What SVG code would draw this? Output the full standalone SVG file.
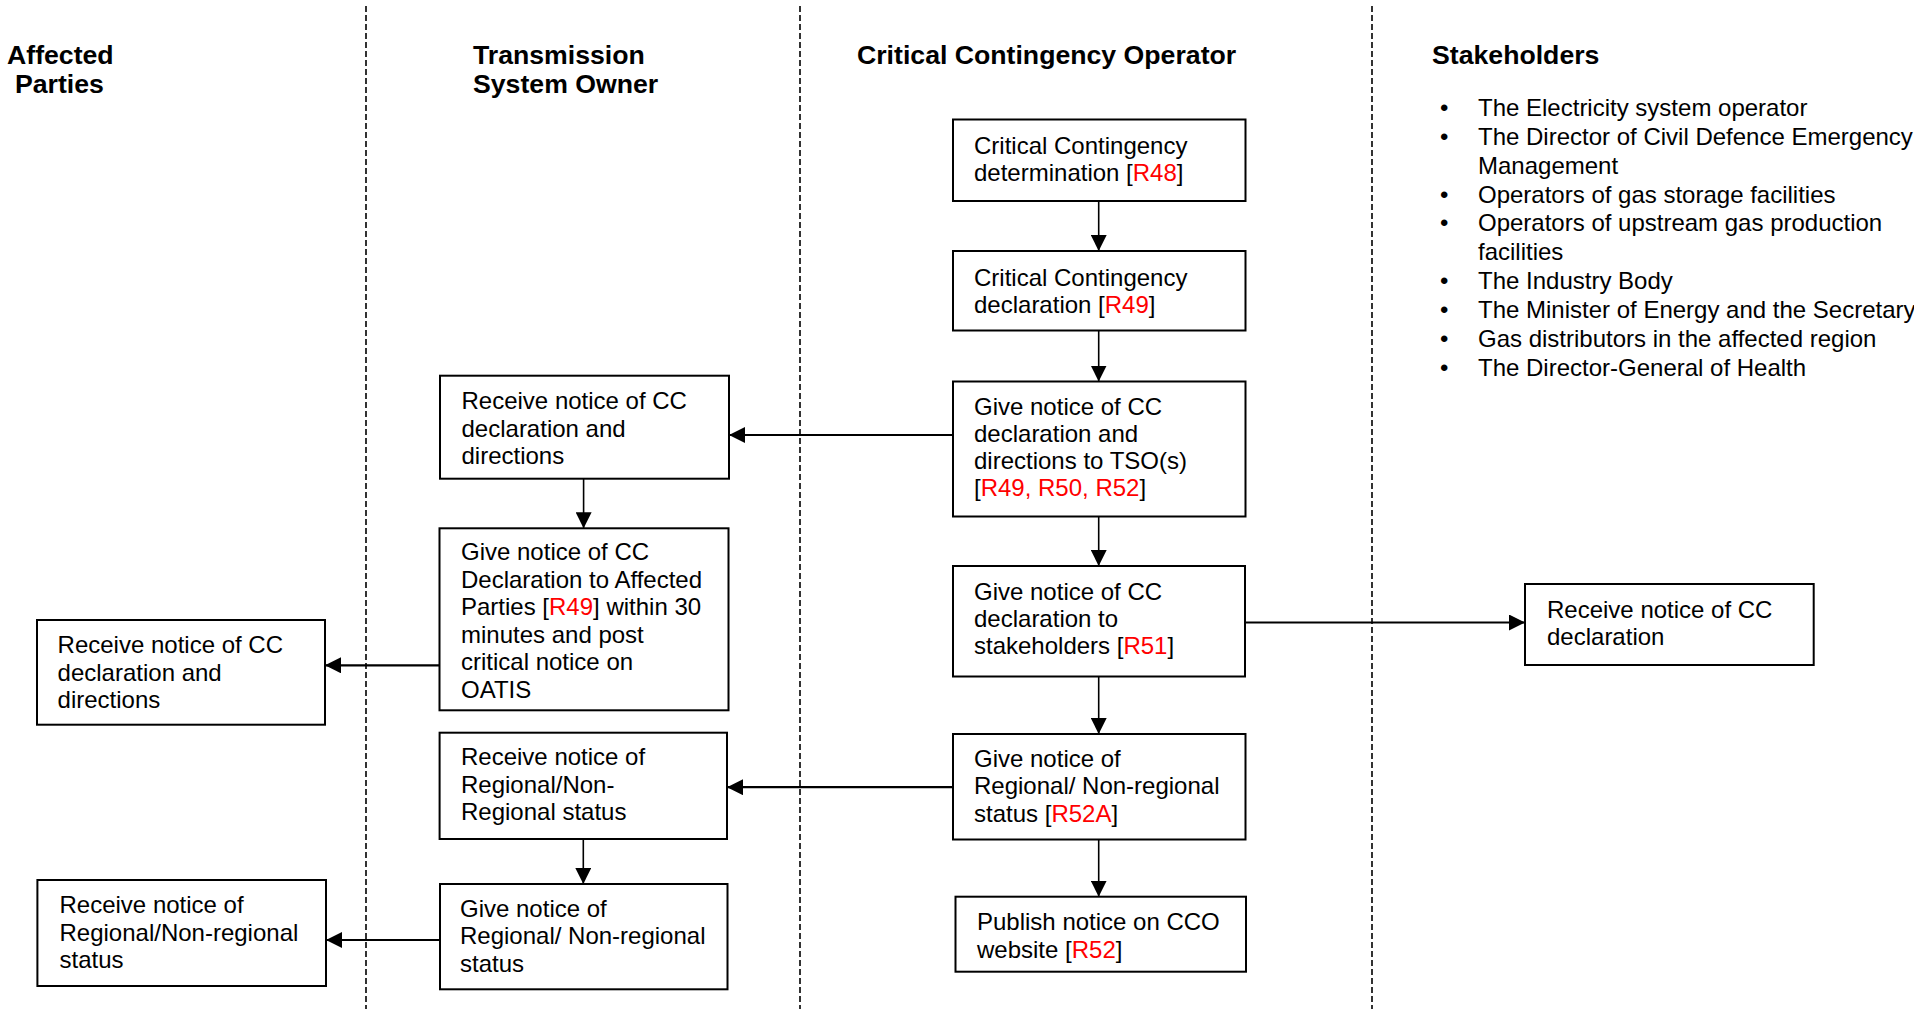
<svg xmlns="http://www.w3.org/2000/svg" width="1914" height="1014" viewBox="0 0 1914 1014">
<style>
  text { font-family: "Liberation Sans", Arial, sans-serif; font-size: 24px; fill: #000; }
  .h { font-weight: bold; font-size: 26.67px; }
  .r { fill: #FF0000; }
  .box { fill: #fff; stroke: #000; stroke-width: 2; }
  .lane { stroke: #000; stroke-width: 1.6; stroke-dasharray: 6 3; fill: none; }
  .v { stroke: #000; stroke-width: 1.6; fill: none; marker-end: url(#ah); }
  .hz { stroke: #000; stroke-width: 2.2; fill: none; marker-end: url(#ah); }
</style>
<defs>
  <marker id="ah" markerUnits="userSpaceOnUse" markerWidth="16" markerHeight="16" viewBox="0 0 15 15" refX="15" refY="7.5" orient="auto">
    <path d="M0,0 L15,7.5 L0,15 z" fill="#000"/>
  </marker>
</defs>
<rect x="0" y="0" width="1914" height="1014" fill="#fff"/>

<g id="lanes">
  <line class="lane" x1="366" y1="6" x2="366" y2="1009"/>
  <line class="lane" x1="800" y1="6" x2="800" y2="1009"/>
  <line class="lane" x1="1372" y1="6" x2="1372" y2="1009"/>
</g>

<g id="headers">
  <text class="h" x="7" y="63.5">Affected</text>
  <text class="h" x="15" y="92.5">Parties</text>
  <text class="h" x="473" y="63.5">Transmission</text>
  <text class="h" x="473" y="92.5">System Owner</text>
  <text class="h" x="857" y="63.5">Critical Contingency Operator</text>
  <text class="h" x="1432" y="63.5">Stakeholders</text>
</g>

<g id="stakeholder-list">
  <text x="1440" y="116">•</text><text x="1478" y="116">The Electricity system operator</text>
  <text x="1440" y="145.3">•</text><text x="1478" y="145.3">The Director of Civil Defence Emergency</text>
  <text x="1478" y="173.5">Management</text>
  <text x="1440" y="202.8">•</text><text x="1478" y="202.8">Operators of gas storage facilities</text>
  <text x="1440" y="231">•</text><text x="1478" y="231">Operators of upstream gas production</text>
  <text x="1478" y="259.5">facilities</text>
  <text x="1440" y="288.5">•</text><text x="1478" y="288.5">The Industry Body</text>
  <text x="1440" y="317.5">•</text><text x="1478" y="317.5">The Minister of Energy and the Secretary</text>
  <text x="1440" y="346.8">•</text><text x="1478" y="346.8">Gas distributors in the affected region</text>
  <text x="1440" y="376">•</text><text x="1478" y="376">The Director-General of Health</text>
</g>

<g id="connectors">
  <line class="v" x1="1098.7" y1="201" x2="1098.7" y2="251"/>
  <line class="v" x1="1098.7" y1="330.5" x2="1098.7" y2="381.5"/>
  <line class="v" x1="1098.7" y1="516.5" x2="1098.7" y2="566"/>
  <line class="v" x1="1098.7" y1="676.5" x2="1098.7" y2="734"/>
  <line class="v" x1="1098.7" y1="839.5" x2="1098.7" y2="896.7"/>
  <line class="hz" x1="953" y1="435" x2="729" y2="435"/>
  <line class="v" x1="583.6" y1="479" x2="583.6" y2="528.3"/>
  <line class="hz" x1="439.5" y1="665.3" x2="325" y2="665.3"/>
  <line class="hz" x1="1245.5" y1="622.5" x2="1525" y2="622.5"/>
  <line class="hz" x1="953" y1="787.2" x2="727" y2="787.2"/>
  <line class="v" x1="583.3" y1="839" x2="583.3" y2="884"/>
  <line class="hz" x1="440" y1="940" x2="326" y2="940"/>
</g>

<g id="cc-determination">
  <rect class="box" x="953" y="119.5" width="292.5" height="81.5"/>
  <text x="974" y="154.3">Critical Contingency</text>
  <text x="974" y="181.3">determination [<tspan class="r">R48</tspan>]</text>
</g>

<g id="cc-declaration">
  <rect class="box" x="953" y="251" width="292.5" height="79.5"/>
  <text x="974" y="286">Critical Contingency</text>
  <text x="974" y="313">declaration [<tspan class="r">R49</tspan>]</text>
</g>

<g id="notice-tso">
  <rect class="box" x="953" y="381.5" width="292.5" height="135"/>
  <text x="974" y="414.5">Give notice of CC</text>
  <text x="974" y="441.7">declaration and</text>
  <text x="974" y="469">directions to TSO(s)</text>
  <text x="974" y="496">[<tspan class="r">R49, R50, R52</tspan>]</text>
</g>

<g id="notice-stakeholders">
  <rect class="box" x="953" y="566" width="292" height="110.5"/>
  <text x="974" y="599.5">Give notice of CC</text>
  <text x="974" y="626.5">declaration to</text>
  <text x="974" y="654">stakeholders [<tspan class="r">R51</tspan>]</text>
</g>

<g id="notice-regional">
  <rect class="box" x="953" y="734" width="292.5" height="105.5"/>
  <text x="974" y="766.7">Give notice of</text>
  <text x="974" y="794.2">Regional/ Non-regional</text>
  <text x="974" y="821.7">status [<tspan class="r">R52A</tspan>]</text>
</g>

<g id="publish-notice">
  <rect class="box" x="955.5" y="896.7" width="290.5" height="75"/>
  <text x="977" y="930">Publish notice on CCO</text>
  <text x="977" y="957.5">website [<tspan class="r">R52</tspan>]</text>
</g>

<g id="tso-receive-cc">
  <rect class="box" x="440" y="375.7" width="289" height="103"/>
  <text x="461.5" y="409.3">Receive notice of CC</text>
  <text x="461.5" y="436.5">declaration and</text>
  <text x="461.5" y="463.5">directions</text>
</g>

<g id="tso-give-cc">
  <rect class="box" x="439.5" y="528.3" width="289" height="182"/>
  <text x="461" y="560">Give notice of CC</text>
  <text x="461" y="587.7">Declaration to Affected</text>
  <text x="461" y="615.2">Parties [<tspan class="r">R49</tspan>] within 30</text>
  <text x="461" y="642.7">minutes and post</text>
  <text x="461" y="670.2">critical notice on</text>
  <text x="461" y="697.5">OATIS</text>
</g>

<g id="ap-receive-cc">
  <rect class="box" x="37" y="620" width="288" height="104.7"/>
  <text x="57.6" y="653.3">Receive notice of CC</text>
  <text x="57.6" y="680.7">declaration and</text>
  <text x="57.6" y="708">directions</text>
</g>

<g id="tso-receive-regional">
  <rect class="box" x="439.6" y="732.7" width="287.4" height="106.3"/>
  <text x="461" y="765">Receive notice of</text>
  <text x="461" y="793">Regional/Non-</text>
  <text x="461" y="820">Regional status</text>
</g>

<g id="tso-give-regional">
  <rect class="box" x="440" y="884" width="287.5" height="105.3"/>
  <text x="460" y="916.7">Give notice of</text>
  <text x="460" y="944.3">Regional/ Non-regional</text>
  <text x="460" y="972">status</text>
</g>

<g id="ap-receive-regional">
  <rect class="box" x="37.4" y="880" width="288.6" height="106"/>
  <text x="59.5" y="912.7">Receive notice of</text>
  <text x="59.5" y="940.5">Regional/Non-regional</text>
  <text x="59.5" y="967.7">status</text>
</g>

<g id="stakeholders-receive">
  <rect class="box" x="1525" y="584" width="288.7" height="81"/>
  <text x="1547" y="618.3">Receive notice of CC</text>
  <text x="1547" y="645">declaration</text>
</g>
</svg>
